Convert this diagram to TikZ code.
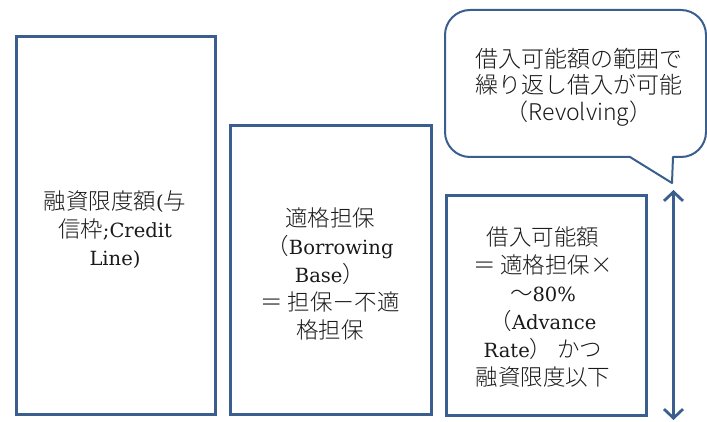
\documentclass[tikz,border=0pt]{standalone}
\usepackage{fontspec}
\setmainfont{DejaVu Serif}[Scale=0.93]
\newfontfamily\jp{Noto Sans CJK JP Light}[Scale=1.07]
\usetikzlibrary{arrows.meta}
\definecolor{frameblue}{HTML}{3A5F8E}
\definecolor{txt}{HTML}{1A1A1A}
\tikzset{
  panel/.style={draw=frameblue, line width=2.6pt, fill=white},
  lbl/.style={align=center, text=txt, font=\fontsize{21}{28}\selectfont, inner sep=0pt},
  callout/.style={draw=frameblue, line width=2pt, fill=white, line join=round},
  barb/.tip={Straight Barb[length=9pt,width=19pt,line width=2.8pt]}
}
\begin{document}
\begin{tikzpicture}[x=1pt,y=1pt]
\useasboundingbox (0,0) rectangle (707,421);
% panels
\node[panel, minimum width=199pt, minimum height=378pt, anchor=south west] (limit) at (15,5) {};
\node[panel, minimum width=201pt, minimum height=289pt, anchor=south west] (base) at (229,5) {};
\node[panel, minimum width=200pt, minimum height=220pt, anchor=south west] (avail) at (445,4) {};
% texts
\node[lbl] (limittxt) at (115,191) {{\jp 融資限度額}({\jp 与}\\{\jp 信枠};Credit\\Line)};
\node[lbl] (basetxt) at (330,147) {{\jp 適格担保}\\{\jp （}Borrowing\\Base{\jp ）}\\{\jp ＝ 担保－不適}\\{\jp 格担保}};
\node[lbl] (availtxt) at (543,114) {{\jp 借入可能額}\\{\jp ＝ 適格担保×}\\{\jp ～}80\%\\{\jp （}Advance\\Rate{\jp ） かつ}\\{\jp 融資限度以下}};
% callout
\draw[callout] (445,386) -- (445,289) arc(180:270:25) -- (630,264) -- (672,238) -- (673,264) -- (681,264) arc(270:360:25) -- (706,386) arc(0:90:25) -- (470,411) arc(90:180:25) -- cycle;
\node[lbl, font=\jp\fontsize{21.5}{26.5}\selectfont] (calltxt) at (579,334) {借入可能額の範囲で\\繰り返し借入が可能\\（Revolving）};
% span arrow
\coordinate (top) at (673.5,231);
\coordinate (bot) at (673.5,1);
\draw[draw=frameblue, line width=2.8pt, barb-barb] (top) -- (bot);
\end{tikzpicture}
\end{document}
